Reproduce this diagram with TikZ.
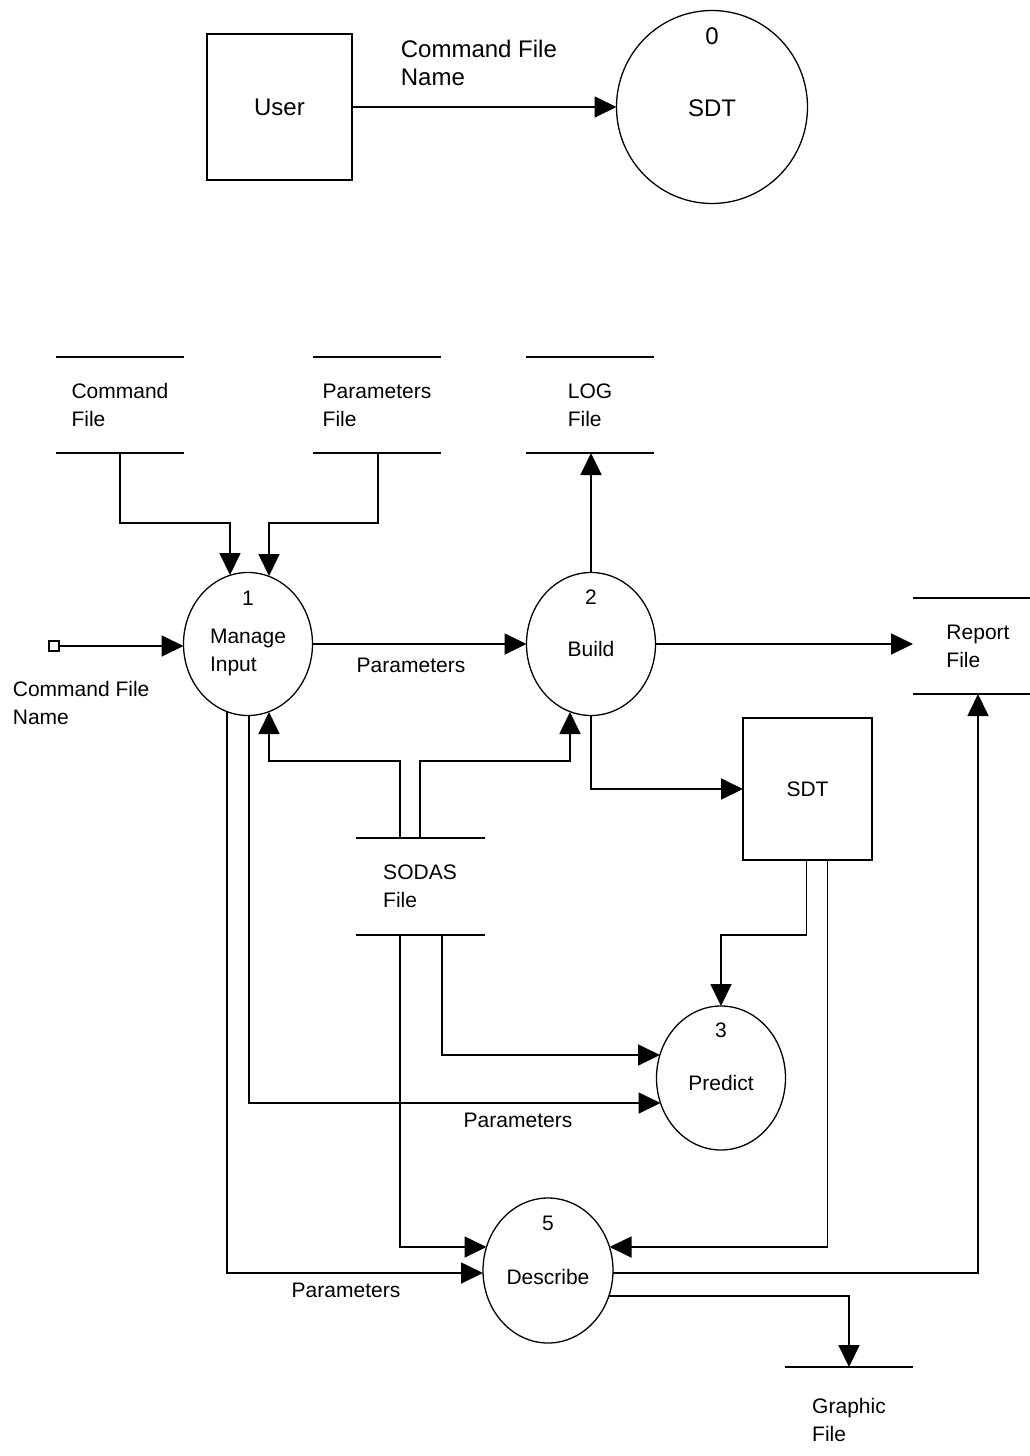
\documentclass[tikz,border=0pt]{standalone}
\usepackage{fontspec}
\setmainfont{Liberation Sans}
\usetikzlibrary{arrows.meta,calc,shapes.geometric}
\begin{document}
\begin{tikzpicture}[x=1pt,y=-1pt,
  line width=1.8pt,
  arr/.style={-{Triangle[length=22pt,width=21pt]}},
  lbl/.style={font=\fontsize{21}{28}\selectfont, align=left, inner sep=0pt},
  toplbl/.style={font=\fontsize{24}{28}\selectfont, align=left, inner sep=0pt},
  proc/.style={draw, ellipse, minimum width=129pt, minimum height=143pt, inner sep=0pt, outer sep=0pt, line width=1.3pt},
  store/.style={minimum width=128pt, minimum height=96pt, inner sep=0pt, outer sep=0pt, font=\fontsize{21}{28}\selectfont, align=left},
  ent/.style={draw, rectangle, inner sep=0pt, outer sep=0pt},
]
\useasboundingbox (0,0) rectangle (1029,1456);

% ---------- context diagram ----------
\node[ent, minimum width=145pt, minimum height=146pt, font=\fontsize{24}{28}\selectfont] (user) at (279.5,107) {User};
\node[proc, minimum width=191pt, minimum height=193pt] (p0) at (712,107) {};
\node[toplbl] (p0num) at (712,36) {0};
\node[toplbl] (p0txt) at (712,108) {SDT};
\draw[arr] (user.east) -- (p0.west);
\node[toplbl, anchor=west] (cfnlbl) at (400,63) {Command File\\Name};

% ---------- stores ----------
\node[store] (cmdf) at (120,405) {Command\\File};
\node[store] (parf) at (377,405) {Parameters\\File};
\node[store] (logf) at (590,405) {LOG\\File};
\node[store, minimum width=130pt] (rptf) at (978,646) {Report\\File};
\node[store, minimum width=129pt, minimum height=97pt] (sodas) at (420,886.5) {SODAS\\File};
\node[store, minimum height=106pt] (grf) at (849,1420) {Graphic\\File};
\foreach \s in {cmdf,parf,logf,rptf,sodas}{
  \draw (\s.north west) -- (\s.north east);
  \draw (\s.south west) -- (\s.south east);
}
\draw (grf.north west) -- (grf.north east);

% ---------- processes ----------
\node[proc] (p1) at (248,644) {};
\node[lbl] (p1num) at (248,598) {1};
\node[lbl, align=left] (p1txt) at (248,652) {Manage\\Input};
\node[proc] (p2) at (591,644) {};
\node[lbl] (p2num) at (591,597) {2};
\node[lbl] (p2txt) at (591,649) {Build};
\node[proc, minimum height=144pt] (p3) at (721,1078) {};
\node[lbl] (p3num) at (721,1030) {3};
\node[lbl] (p3txt) at (721,1083) {Predict};
\node[proc, minimum width=130pt, minimum height=145pt] (p5) at (548,1270.5) {};
\node[lbl] (p5num) at (548,1223) {5};
\node[lbl] (p5txt) at (548,1277) {Describe};

% ---------- external ----------
\node[ent, minimum width=129pt, minimum height=142pt, font=\fontsize{21}{28}\selectfont] (sdt) at (807.5,789) {SDT};
\node[draw, rectangle, minimum size=10pt, inner sep=0pt, line width=1.2pt] (src) at (54,646) {};
\node[lbl, anchor=west] (srclbl) at (12,703) {Command File\\Name};

% ---------- border points ----------
\coordinate (p1t1) at ($(p1)+(-18,-69)$);
\coordinate (p1t2) at ($(p1)+(21,-68)$);
\coordinate (p1b1) at ($(p1)+(21,68)$);
\coordinate (p1b2) at ($(p1)+(1,71.5)$);
\coordinate (p1b3) at ($(p1)+(-21,68)$);
\coordinate (p2b) at ($(p2)+(-21,68)$);
\coordinate (p3l1) at ($(p3)+(-61,-23)$);
\coordinate (p3l2) at ($(p3)+(-60.5,25)$);
\coordinate (p5l1) at ($(p5)+(-61.5,-23.5)$);
\coordinate (p5l2) at ($(p5)+(-65,2.5)$);
\coordinate (p5r1) at ($(p5)+(61.5,-23.5)$);
\coordinate (p5r2) at ($(p5)+(65,2.5)$);
\coordinate (p5r3) at ($(p5)+(61,25.5)$);

% ---------- flows ----------
\draw[arr] (cmdf.south) -- ++(0,70) -| (p1t1);
\draw[arr] ([xshift=1pt]parf.south) -- ++(0,70) -| (p1t2);
\draw[arr] (p2.north) -- (p2.north |- logf.south);
\draw[arr] (src.east) -- (src.east -| p1.west);
\draw[arr] (p1.east) -- (p2.west);
\node[lbl] (par1) at (411,665) {Parameters};
\draw[arr] (p2.east) -- (p2.east -| rptf.west);
\draw[arr] ([xshift=-20pt]sodas.north) -- ++(0,-77) -| (p1b1);
\draw[arr] (sodas.north) -- ++(0,-77) -| (p2b);
\draw[arr] (p2.south) |- (sdt.west);
\draw[arr] ([xshift=-1pt]sdt.south) -- ++(0,75) -| (p3.north);
\draw[arr] ([xshift=20pt]sdt.south) |- (p5r1);
\draw[arr] ([xshift=22pt]sodas.south) |- (p3l1);
\draw[arr] ([xshift=-20pt]sodas.south) |- (p5l1);
\draw[arr] (p1b2) |- (p3l2);
\node[lbl] (par2) at (518,1120) {Parameters};
\draw[arr] (p1b3) |- (p5l2);
\node[lbl] (par3) at (346,1290) {Parameters};
\draw[arr] (p5r2) -| (rptf.south);
\draw[arr] (p5r3) -| (grf.north);
\end{tikzpicture}
\end{document}
